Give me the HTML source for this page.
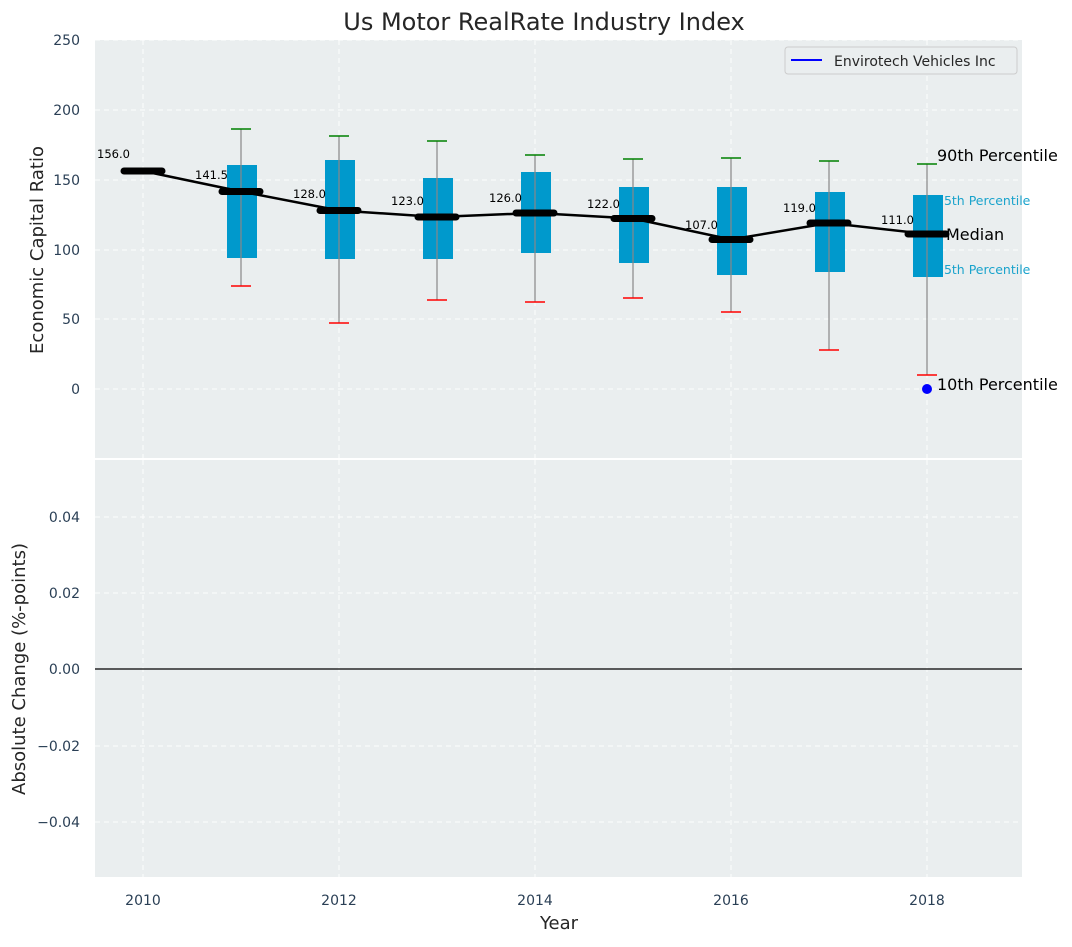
<!DOCTYPE html>
<html><head><meta charset="utf-8"><style>
body{margin:0;background:#fff}
svg text{font-family:"DejaVu Sans","Liberation Sans",sans-serif}
</style></head><body>
<svg width="1072" height="942" viewBox="0 0 1072 942" xmlns="http://www.w3.org/2000/svg">
<rect width="1072" height="942" fill="#fff"/>
<rect x="95" y="40" width="927" height="418" fill="#eaeeef"/>
<rect x="95" y="460" width="927" height="417" fill="#eaeeef"/>
<g stroke="#fff" stroke-width="1" stroke-dasharray="5,4" opacity="0.9">
<line x1="95" x2="1022" y1="40" y2="40"/><line x1="95" x2="1022" y1="110" y2="110"/><line x1="95" x2="1022" y1="180" y2="180"/><line x1="95" x2="1022" y1="250" y2="250"/><line x1="95" x2="1022" y1="319" y2="319"/><line x1="95" x2="1022" y1="389" y2="389"/>
<line x1="95" x2="1022" y1="517" y2="517"/><line x1="95" x2="1022" y1="593" y2="593"/><line x1="95" x2="1022" y1="746" y2="746"/><line x1="95" x2="1022" y1="822" y2="822"/>
<line x1="143" x2="143" y1="40" y2="458"/><line x1="339" x2="339" y1="40" y2="458"/><line x1="535" x2="535" y1="40" y2="458"/><line x1="731" x2="731" y1="40" y2="458"/><line x1="927" x2="927" y1="40" y2="458"/>
<line x1="143" x2="143" y1="460" y2="877"/><line x1="339" x2="339" y1="460" y2="877"/><line x1="535" x2="535" y1="460" y2="877"/><line x1="731" x2="731" y1="460" y2="877"/><line x1="927" x2="927" y1="460" y2="877"/>
</g>
<line x1="95" x2="1022" y1="669" y2="669" stroke="#000" stroke-width="1.2"/>
<text x="936" y="205" font-size="12.5" fill="#1aa3cc">75th Percentile</text>
<text x="936" y="274" font-size="12.5" fill="#1aa3cc">25th Percentile</text>
<g fill="#0099cc">
<rect x="227" y="165" width="30" height="93"/>
<rect x="325" y="160" width="30" height="99"/>
<rect x="423" y="178" width="30" height="81"/>
<rect x="521" y="172" width="30" height="81"/>
<rect x="619" y="187" width="30" height="76"/>
<rect x="717" y="187" width="30" height="88"/>
<rect x="815" y="192" width="30" height="80"/>
<rect x="913" y="195" width="30" height="82"/>
</g>
<g stroke="#888" stroke-width="1.2">
<line x1="241" x2="241" y1="129" y2="286"/>
<line x1="339" x2="339" y1="136" y2="323"/>
<line x1="437" x2="437" y1="141" y2="300"/>
<line x1="535" x2="535" y1="155" y2="302"/>
<line x1="633" x2="633" y1="159" y2="298"/>
<line x1="731" x2="731" y1="158" y2="312"/>
<line x1="829" x2="829" y1="161" y2="350"/>
<line x1="927" x2="927" y1="164" y2="375"/>
</g>
<g stroke="green" stroke-width="1.6">
<line x1="231" x2="251" y1="129" y2="129"/><line x1="329" x2="349" y1="136" y2="136"/><line x1="427" x2="447" y1="141" y2="141"/><line x1="525" x2="545" y1="155" y2="155"/><line x1="623" x2="643" y1="159" y2="159"/><line x1="721" x2="741" y1="158" y2="158"/><line x1="819" x2="839" y1="161" y2="161"/><line x1="917" x2="937" y1="164" y2="164"/>
</g>
<g stroke="red" stroke-width="1.6">
<line x1="231" x2="251" y1="286" y2="286"/><line x1="329" x2="349" y1="323" y2="323"/><line x1="427" x2="447" y1="300" y2="300"/><line x1="525" x2="545" y1="302" y2="302"/><line x1="623" x2="643" y1="298" y2="298"/><line x1="721" x2="741" y1="312" y2="312"/><line x1="819" x2="839" y1="350" y2="350"/><line x1="917" x2="937" y1="375" y2="375"/>
</g>
<polyline fill="none" stroke="#000" stroke-width="2.5" points="143,171 241,191.5 339,210.5 437,217 535,213 633,218.5 731,239.5 829,223 927,234"/>
<g stroke="#000" stroke-width="7" stroke-linecap="round">
<line x1="124" x2="162" y1="171" y2="171"/><line x1="222" x2="260" y1="191.5" y2="191.5"/><line x1="320" x2="358" y1="210.5" y2="210.5"/><line x1="418" x2="456" y1="217" y2="217"/><line x1="516" x2="554" y1="213" y2="213"/><line x1="614" x2="652" y1="218.5" y2="218.5"/><line x1="712" x2="750" y1="239.5" y2="239.5"/><line x1="810" x2="848" y1="223" y2="223"/><line x1="908" x2="946" y1="234" y2="234"/>
</g>
<g font-size="11.5" fill="#000">
<text x="97" y="158">156.0</text><text x="195" y="179">141.5</text><text x="293" y="198">128.0</text><text x="391" y="205">123.0</text><text x="489" y="202">126.0</text><text x="587" y="208">122.0</text><text x="685" y="229">107.0</text><text x="783" y="212">119.0</text><text x="881" y="224">111.0</text>
</g>
<circle cx="927" cy="389" r="5" fill="#0000ff"/>
<text x="937" y="161" font-size="16" fill="#000">90th Percentile</text>
<text x="946" y="240" font-size="16" fill="#000">Median</text>
<text x="937" y="390" font-size="16" fill="#000">10th Percentile</text>
<rect x="785" y="47" width="232" height="27" rx="3" fill="#eaeeef" stroke="#ccc"/>
<line x1="791" x2="822" y1="60" y2="60" stroke="#0000ff" stroke-width="2"/>
<text x="834" y="66" font-size="14" fill="#262626">Envirotech Vehicles Inc</text>
<g font-size="14" fill="#2a3f55" text-anchor="end">
<text x="80" y="45">250</text><text x="80" y="115">200</text><text x="80" y="185">150</text><text x="80" y="255">100</text><text x="80" y="324">50</text><text x="80" y="394">0</text>
<text x="80" y="522">0.04</text><text x="80" y="598">0.02</text><text x="80" y="674">0.00</text><text x="80" y="751">−0.02</text><text x="80" y="827">−0.04</text>
</g>
<g font-size="14" fill="#2a3f55" text-anchor="middle">
<text x="143" y="905">2010</text><text x="339" y="905">2012</text><text x="535" y="905">2014</text><text x="731" y="905">2016</text><text x="927" y="905">2018</text>
</g>
<text x="559" y="929" font-size="18" fill="#262626" text-anchor="middle">Year</text>
<text x="544" y="30" font-size="24" fill="#262626" text-anchor="middle">Us Motor RealRate Industry Index</text>
<text transform="translate(43,250) rotate(-90)" font-size="18" fill="#262626" text-anchor="middle">Economic Capital Ratio</text>
<text transform="translate(25,669) rotate(-90)" font-size="18" fill="#262626" text-anchor="middle">Absolute Change (%-points)</text>
</svg>
</body></html>
